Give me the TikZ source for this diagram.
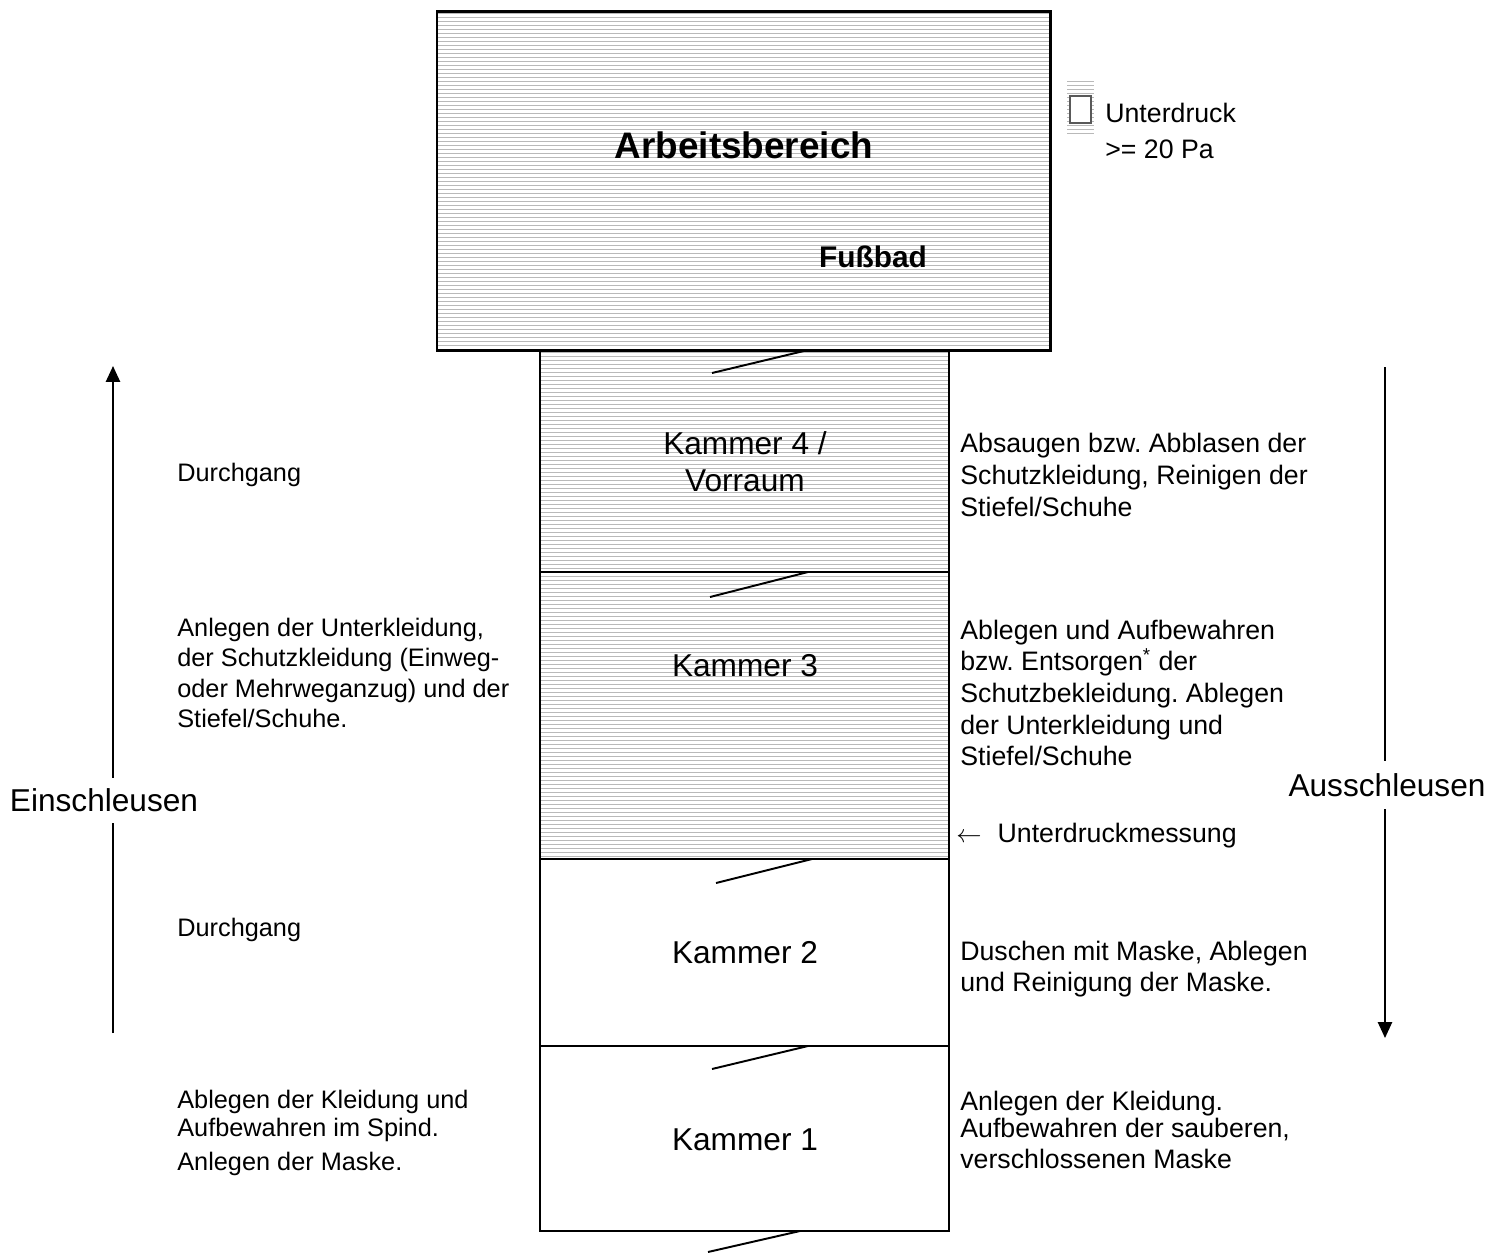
\documentclass[tikz,border=0pt]{standalone}
\usepackage{fontspec}
\setmainfont{Liberation Sans}
\usetikzlibrary{arrows.meta}
\frenchspacing

\begin{document}
\begin{tikzpicture}[x=0.02cm,y=-0.02cm,
    txt/.style={anchor=west,align=left,inner sep=0pt,font=\fontsize{14.4}{17.2}\selectfont},
    rtxt/.style={txt,font=\fontsize{15.2}{18}\selectfont},
    big/.style={inner sep=0pt,align=center,font=\fontsize{18}{21}\selectfont},
    hatch/.style={gray!55,line width=0.55pt},
    wall/.style={line width=1.1pt},
    door/.style={line width=1.1pt},
    flow/.style={line width=1.1pt,-{Triangle[length=9pt,width=8pt]}}]
    \useasboundingbox (0,0) rectangle (1499,1252);
    % hatching: work area, chambers 4 and 3, legend
    \foreach \y in {13,17,...,349} \draw[hatch] (437,\y) -- (1050,\y);
    \foreach \y in {352,356,...,858} \draw[hatch] (540,\y) -- (949,\y);
    \foreach \y in {81,85,...,133} \draw[hatch] (1067,\y) -- (1094,\y);
    \draw[gray!70!black,fill=white,line width=0.6pt] (1070,96) rectangle (1091,123);
    % walls
    \draw[line width=1.7pt] (437,11) rectangle (1050,350);
    \draw[wall] (540,350) rectangle (949,1231);
    \foreach \y in {572,859,1046} \draw[wall] (540,\y) -- (949,\y);
    % doors
    \foreach \xa/\ya/\xb/\yb in {808/350/712/373,808/572/710/597,812/859/716/883,808/1046/712/1069,800/1231/708/1252}
      \draw[door] (\xa,\ya) -- (\xb,\yb);
    % room labels
    \node[inner sep=0pt,font=\bfseries\fontsize{21}{25}\selectfont] (ab) at (744,145) {Arbeitsbereich};
    \node[inner sep=0pt,font=\bfseries\fontsize{17}{20}\selectfont] (fuss) at (873,257) {Fußbad};
    \node[big] (k4) at (745,462) {Kammer 4 /\\Vorraum};
    \node[big] (k3) at (745,666) {Kammer 3};
    \node[big] (k2) at (745,953) {Kammer 2};
    \node[big] (k1) at (745,1140) {Kammer 1};
    % legend
    \node[rtxt] (leg) at (1105,131) {Unterdruck\\[2.5pt]>= 20 Pa};
    % left side
    \node[txt] (l4) at (177,475) {Durchgang};
    \node[txt] (l3) at (177,673) {Anlegen der Unterkleidung,\\der Schutzkleidung (Einweg-\\oder Mehrweganzug) und der\\Stiefel/Schuhe.};
    \node[txt] (l2) at (177,930) {Durchgang};
    \node[txt] (l1) at (177,1133) {Ablegen der Kleidung und\\[-1.5pt]Aufbewahren im Spind.\\[2pt]Anlegen der Maske.};
    % right side
    \node[rtxt] (r4) at (960,475) {Absaugen bzw. Abblasen der\\Schutzkleidung, Reinigen der\\Stiefel/Schuhe};
    \node[rtxt] (r3) at (960,693) {Ablegen und Aufbewahren\\bzw. Entsorgen\textsuperscript{*} der\\Schutzbekleidung. Ablegen\\der Unterkleidung und\\Stiefel/Schuhe};
    \node[rtxt] (mess) at (956,836) {$\leftarrow$\hspace{0.6em}Unterdruckmessung};
    \node[rtxt] (r2) at (960,969) {Duschen mit Maske, Ablegen\\und Reinigung der Maske.};
    \node[rtxt] (r1) at (960,1130) {Anlegen der Kleidung.\\[-2.5pt]Aufbewahren der sauberen,\\verschlossenen Maske};
    % flow arrows
    \coordinate (ein-s) at (113,1033);
    \coordinate (ein-e) at (113,366);
    \node[big,inner sep=6pt] (ein) at (104,800) {Einschleusen};
    \draw[wall] (ein-s) -- (ein.south -| ein-s);
    \draw[flow] (ein.north -| ein-s) -- (ein-e);
    \coordinate (aus-s) at (1385,367);
    \coordinate (aus-e) at (1385,1038);
    \node[big,inner sep=7pt] (aus) at (1387,785) {Ausschleusen};
    \draw[wall] (aus-s) -- (aus.north -| aus-s);
    \draw[flow] (aus.south -| aus-s) -- (aus-e);
\end{tikzpicture}
\end{document}
